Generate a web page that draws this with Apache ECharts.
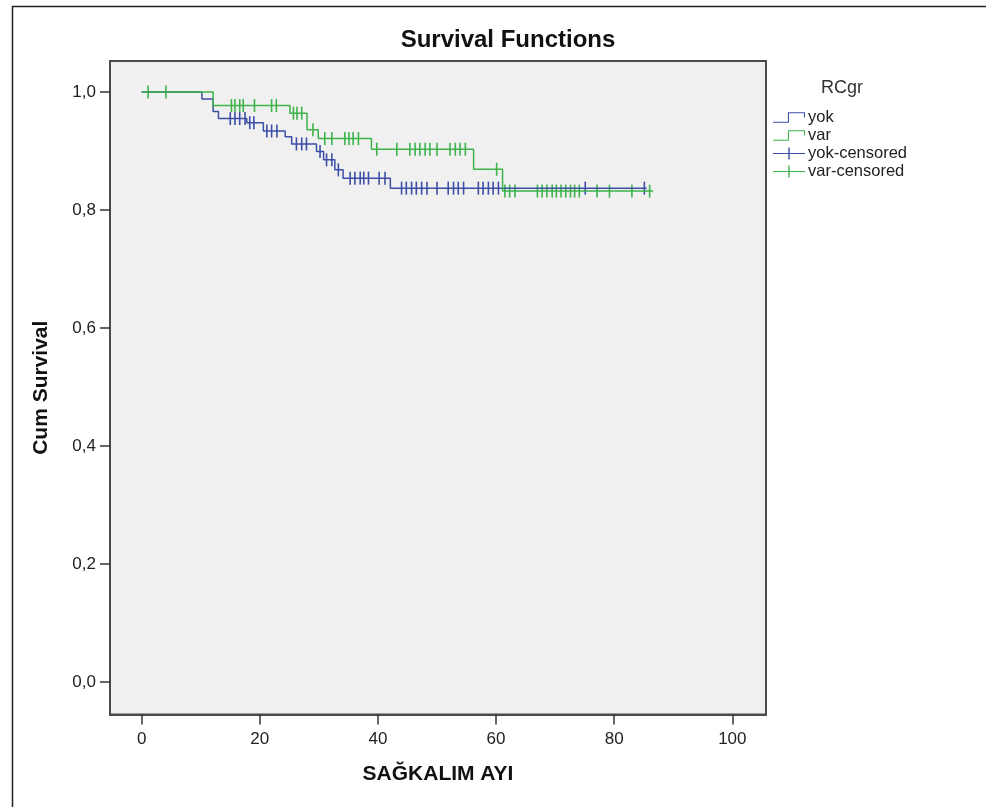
<!DOCTYPE html>
<html>
<head>
<meta charset="utf-8">
<script src="https://cdn.jsdelivr.net/npm/echarts@6/dist/echarts.min.js"></script>
<style>
html,body{margin:0;padding:0;background:#fff;}
#chart{width:986px;height:807px;}
</style>
</head>
<body>
<div id="chart"></div>
<script>
// ---- data ----
const groupNames = ['yok', 'var'];
const legendNames = ['yok', 'var', 'yok-censored', 'var-censored'];
const xTicks = [0, 20, 40, 60, 80, 100];
const yTicks = [0, 0.2, 0.4, 0.6, 0.8, 1.0];

// step points: time of each drop and survival after it
const yokTimes = [0, 10.2, 12.1, 13.0, 17.8, 20.6, 24.3, 25.4, 29.6, 30.8, 32.7, 34.1, 42.1, 85.5];
const yokSurv  = [1.0, 0.988, 0.967, 0.955, 0.948, 0.934, 0.924, 0.912, 0.899, 0.885, 0.868, 0.854, 0.837, 0.837];
const yokCensored = [15.0, 15.8, 16.6, 17.5, 18.3, 19.0, 21.2, 22.0, 22.9, 26.2, 27.1, 27.9, 30.2, 31.3, 32.2, 33.3,
  35.3, 36.1, 37.0, 37.6, 38.4, 40.2, 41.2, 44.0, 44.8, 45.7, 46.5, 47.4, 48.3, 50.0, 51.9, 52.8, 53.6, 54.5,
  57.0, 57.8, 58.7, 59.5, 60.4, 75.1, 85.1];

const varTimes = [0, 12.1, 25.1, 28.0, 29.9, 38.9, 56.2, 61.1, 86.6];
const varSurv  = [1.0, 0.977, 0.964, 0.936, 0.921, 0.903, 0.869, 0.832, 0.832];
const varCensored = [1.1, 4.1, 15.2, 15.8, 16.6, 17.2, 19.1, 22.0, 22.8, 25.7, 26.3, 27.1, 29.0, 31.0, 32.2, 34.4,
  35.1, 35.8, 36.7, 39.8, 43.2, 45.4, 46.3, 47.1, 48.0, 48.8, 50.0, 52.2, 53.1, 53.9, 54.8, 60.1, 61.5, 62.3,
  63.2, 67.0, 67.8, 68.6, 69.5, 70.2, 71.0, 71.8, 72.6, 73.3, 74.1, 77.1, 79.2, 83.0, 86.0];

// ---- helpers ----
function stepPoints(times, surv) { return times.map((t, i) => [t, surv[i]]); }
function survAt(times, surv, t) {
  let s = surv[0];
  for (let i = 0; i < times.length; i++) { if (times[i] <= t) s = surv[i]; }
  return s;
}
function censorPoints(cens, times, surv) { return cens.map(t => [t, survAt(times, surv, t)]); }

const BLUE = '#3d4ea6';
const GREEN = '#3db34a';
const FONT = "'Liberation Sans', Arial, sans-serif";

const lineIcon = 'path://M0,10 L14,10 L14,1 L30,1 L30,6 L29,6 L29,2 L15,2 L15,11 L0,11 Z';
const plusIcon = 'path://M0,5.5 L32,5.5 L32,6.5 L0,6.5 Z M15.3,0 L16.7,0 L16.7,12 L15.3,12 Z';

const chart = echarts.init(document.getElementById('chart'), null, {renderer: 'canvas'});
chart.setOption({
  backgroundColor: '#ffffff',
  animation: false,
  graphic: [
    {type: 'rect', left: 10, top: 4, shape: {width: 1100, height: 900},
     style: {fill: 'none', stroke: '#222', lineWidth: 1.5}, silent: true, z: -10},
    {type: 'text', x: 508, y: 28, style: {text: 'Survival Functions', fill: '#111',
      font: "bold 24px " + FONT, textAlign: 'center'}},
    {type: 'text', x: 842, y: 79, style: {text: 'RCgr', fill: '#333',
      font: "18px " + FONT, textAlign: 'center'}}
  ],
  grid: {left: 110, top: 61, right: 220, bottom: 92.5, show: true,
    backgroundColor: '#f0f0f0', borderColor: '#4a4a4a', borderWidth: 2},
  legend: {
    orient: 'vertical', left: 768, top: 104, itemWidth: 32, itemHeight: 12, itemGap: 1,
    textStyle: {fontFamily: FONT, fontSize: 16.5, lineHeight: 17, color: '#222', padding: [0,0,0,-2]},
    data: [
      {name: 'yok', icon: lineIcon, itemStyle: {color: BLUE, borderWidth: 0}},
      {name: 'var', icon: lineIcon, itemStyle: {color: GREEN, borderWidth: 0}},
      {name: 'yok-censored', icon: plusIcon, itemStyle: {color: BLUE, borderWidth: 0}},
      {name: 'var-censored', icon: plusIcon, itemStyle: {color: GREEN, borderWidth: 0}}
    ]
  },
  xAxis: {
    type: 'value', min: -5.36, max: 105.7,
    name: 'SAĞKALIM AYI', nameLocation: 'middle', nameGap: 49,
    nameTextStyle: {fontFamily: FONT, fontWeight: 'bold', fontSize: 21, color: '#111'},
    axisLine: {show: true, onZero: false, lineStyle: {color: '#4a4a4a', width: 2}},
    splitLine: {show: false},
    axisTick: {show: true, length: 10, customValues: xTicks, lineStyle: {color: '#333', width: 1.5}},
    axisLabel: {customValues: xTicks, margin: 16, fontFamily: FONT, fontSize: 17, color: '#222'}
  },
  yAxis: {
    type: 'value', min: -0.055, max: 1.0525,
    name: 'Cum Survival', nameLocation: 'middle', nameGap: 58,
    nameTextStyle: {fontFamily: FONT, fontWeight: 'bold', fontSize: 21, color: '#111'},
    axisLine: {show: true, onZero: false, lineStyle: {color: '#4a4a4a', width: 2}},
    splitLine: {show: false},
    axisTick: {show: true, length: 10, customValues: yTicks, lineStyle: {color: '#333', width: 1.5}},
    axisLabel: {customValues: yTicks, margin: 14, fontFamily: FONT, fontSize: 17, color: '#222',
      formatter: v => v.toFixed(1).replace('.', ',')}
  },
  series: [
    {name: 'yok', type: 'line', step: 'end', showSymbol: false, symbol: 'none',
     data: stepPoints(yokTimes, yokSurv), lineStyle: {color: BLUE, width: 1.5}, itemStyle: {color: BLUE}},
    {name: 'var', type: 'line', step: 'end', showSymbol: false, symbol: 'none',
     data: stepPoints(varTimes, varSurv), lineStyle: {color: GREEN, width: 1.5}, itemStyle: {color: GREEN}},
    {name: 'yok-censored', type: 'scatter', symbol: 'rect', symbolSize: [1.6, 13],
     data: censorPoints(yokCensored, yokTimes, yokSurv), itemStyle: {color: BLUE, opacity: 1}},
    {name: 'var-censored', type: 'scatter', symbol: 'rect', symbolSize: [1.6, 13],
     data: censorPoints(varCensored, varTimes, varSurv), itemStyle: {color: GREEN, opacity: 1}}
  ]
});
</script>
</body>
</html>
